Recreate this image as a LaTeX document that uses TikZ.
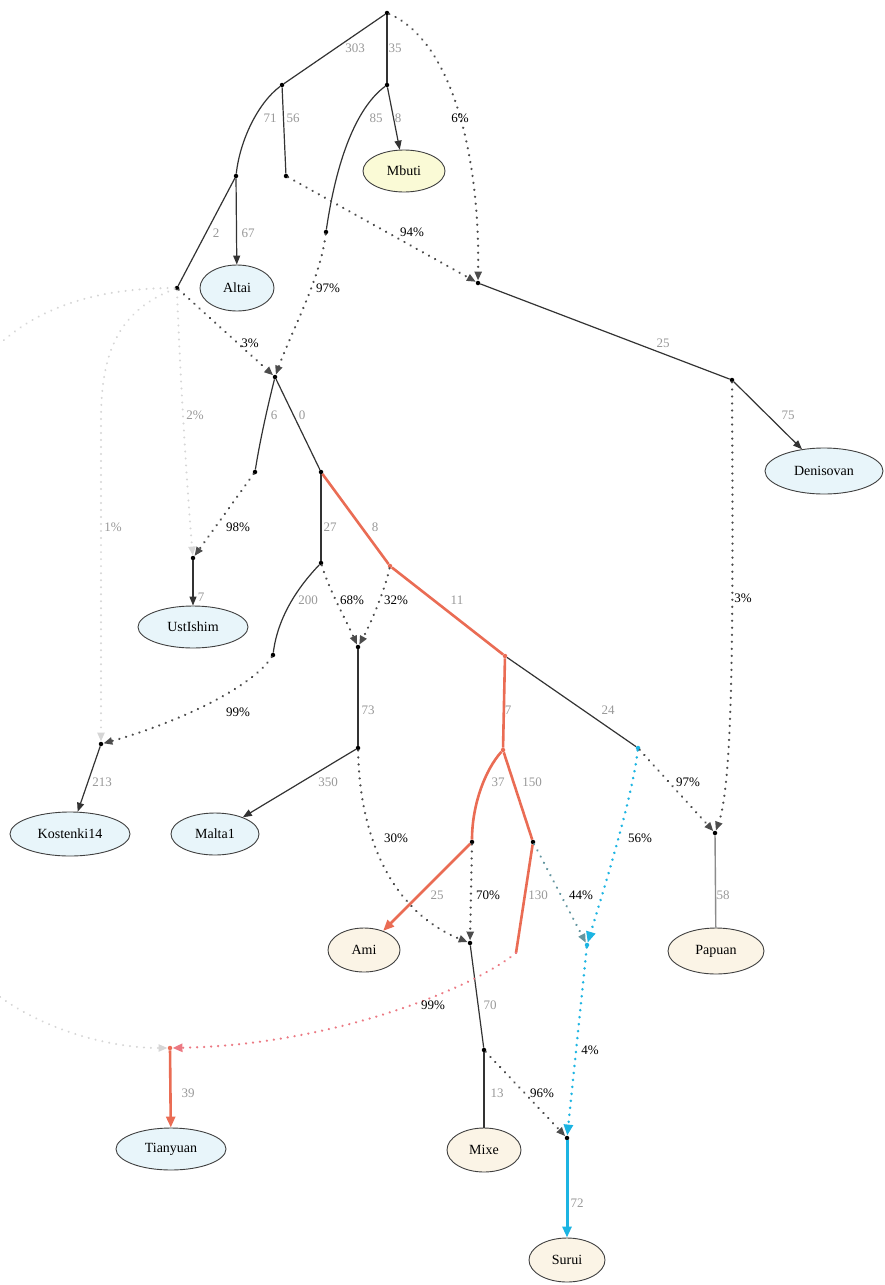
\documentclass[tikz,border=0pt]{standalone}
\usepackage{fontspec}
\setmainfont{Liberation Serif}
\usetikzlibrary{arrows.meta,shapes.geometric}
\definecolor{redE}{RGB}{234,108,84}
\definecolor{redD}{RGB}{236,120,130}
\definecolor{cyanE}{RGB}{28,180,226}
\definecolor{tealG}{RGB}{100,150,160}
\definecolor{fillB}{RGB}{232,245,250}
\definecolor{fillY}{RGB}{250,250,214}
\definecolor{fillC}{RGB}{251,244,230}
\tikzset{
  dotn/.style={circle,fill=black,inner sep=0pt,minimum size=4.5pt},
  leaf/.style={ellipse,draw=black!75,line width=0.9pt,inner sep=0pt,font=\fontsize{14}{16}\selectfont},
  leafB/.style={leaf,fill=fillB},
  leafY/.style={leaf,fill=fillY},
  leafC/.style={leaf,fill=fillC},
  glab/.style={text=black!40,font=\fontsize{13}{15}\selectfont,inner sep=0pt},
  plab/.style={text=black,font=\fontsize{13}{15}\selectfont,inner sep=0pt},
  sol/.style={line width=1.2pt,draw=black!80},
  redS/.style={line width=2.6pt,draw=redE},
  cyS/.style={line width=3pt,draw=cyanE},
  dotE/.style={line width=2.5pt,dash pattern=on 0.01pt off 7pt,line cap=round,draw=black!70},
  dotF/.style={line width=2.2pt,dash pattern=on 0.01pt off 7pt,line cap=round,draw=black!16},
  arr/.style={-{Triangle[length=9pt,width=7pt]}},
  arrB/.style={-{Triangle[length=11pt,width=9pt]}},
}
\begin{document}
\begin{tikzpicture}[x=1pt,y=-1pt]
\useasboundingbox[fill=white] (0,0) rectangle (884,1285);
% points
\node[dotn] (nR) at (387,13) {};
\node[dotn] (nA) at (282,85) {};
\node[dotn] (nB) at (387,85) {};
\node[dotn] (nC) at (236,176) {};
\node[dotn] (nD) at (286,176) {};
\node[dotn] (nE) at (326,232) {};
\node[dotn] (nF) at (478,283) {};
\node[dotn] (nG) at (177,288) {};
\node[dotn] (nH) at (275,377) {};
\node[dotn] (nL) at (255,472) {};
\node[dotn] (nM) at (321,472) {};
\node[dotn] (nI) at (193,558) {};
\node[dotn] (nN) at (321,563) {};
\node[dotn,fill=redE] (nO) at (390,566) {};
\node[dotn] (nQ) at (358,647) {};
\node[dotn] (nP) at (273,655) {};
\node[dotn,fill=redE] (nS) at (505,656) {};
\node[dotn] (nJ) at (101,744) {};
\node[dotn] (nT) at (358,748) {};
\node[dotn,fill=redE] (nV) at (503,750) {};
\node[dotn,fill=cyanE] (nW) at (638,748) {};
\node[dotn] (nX) at (472,842) {};
\node[dotn] (nY) at (533,842) {};
\node[dotn] (nBB) at (715,833) {};
\node[dotn] (nU) at (470,943) {};
\node[dotn,fill=cyanE] (nAA) at (587,945) {};
\coordinate (nZ) at (516,953);
\node[dotn,fill=redE] (nK) at (170,1048) {};
\node[dotn] (nMM) at (484,1050) {};
\node[dotn] (nNN) at (567,1138) {};
\node[dotn] (nDD) at (732,380) {};
% leaves
\node[leafY,minimum width=82pt,minimum height=42pt] (mbuti) at (404,171) {Mbuti};
\node[leafB,minimum width=74pt,minimum height=46pt] (altai) at (237,288) {Altai};
\node[leafB,minimum width=118pt,minimum height=46pt] (deni) at (824,471) {Denisovan};
\node[leafB,minimum width=110pt,minimum height=42pt] (ust) at (193,627) {UstIshim};
\node[leafB,minimum width=120pt,minimum height=44pt] (kost) at (70,834) {Kostenki14};
\node[leafB,minimum width=88pt,minimum height=42pt] (malta) at (215,834) {Malta1};
\node[leafC,minimum width=72pt,minimum height=44pt] (ami) at (364,950) {Ami};
\node[leafC,minimum width=96pt,minimum height=46pt] (papuan) at (716,951) {Papuan};
\node[leafC,minimum width=74pt,minimum height=44pt] (mixe) at (484,1150) {Mixe};
\node[leafC,minimum width=76pt,minimum height=44pt] (surui) at (567,1260) {Surui};
\node[leafB,minimum width=110pt,minimum height=42pt] (tian) at (171,1149) {Tianyuan};
% faint edges (clipped)
\begin{scope}
\clip (0,0) rectangle (884,1285);
\draw[dotF,arr] (nG) .. controls (60,288) and (-60,330) .. (-70,520) -- (-70,880) .. controls (-60,1000) and (80,1048) .. (nK);
\draw[dotF,arr] (nG) .. controls (120,310) and (101,350) .. (101,420) -- (nJ);
\draw[dotF,arr] (nG) .. controls (180,380) and (188,500) .. (nI);
\end{scope}
% solid black edges
\draw[sol] (nR) -- (nA);
\draw[sol] (nR) -- (nB);
\draw[sol] (nA) .. controls (258,103) and (240,140) .. (nC);
\draw[sol] (nA) -- (nD);
\draw[sol,arr] (nB) -- (mbuti);
\draw[sol] (nB) .. controls (360,105) and (338,150) .. (nE);
\draw[sol,arr] (nC) -- (altai);
\draw[sol] (nC) -- (nG);
\draw[sol] (nF) -- (nDD);
\draw[sol,arr] (nDD) -- (deni);
\draw[sol] (nH) .. controls (268,405) and (260,440) .. (nL);
\draw[sol] (nH) -- (nM);
\draw[sol] (nM) -- (nN);
\draw[sol] (nN) .. controls (300,585) and (278,615) .. (nP);
\draw[sol,arr] (nI) -- (ust);
\draw[sol,arr] (nJ) -- (kost);
\draw[sol] (nQ) -- (nT);
\draw[sol,arr] (nT) -- (malta);
\draw[sol] (nS) -- (nW);
\draw[sol] (nU) -- (nMM);
\draw[sol] (nMM) -- (mixe);
\draw[line width=1.4pt,draw=black!45] (nBB) -- (papuan);
% red edges
\draw[redS] (nM) -- (nO);
\draw[redS] (nO) -- (nS);
\draw[redS] (nS) -- (nV);
\draw[redS] (nV) .. controls (485,770) and (472,805) .. (nX);
\draw[redS,arrB] (nX) -- (ami);
\draw[redS] (nV) -- (nY);
\draw[redS] (nY) -- (nZ);
\draw[redS,arrB] (nK) -- (tian);
% cyan
\draw[cyS,arrB] (nNN) -- (surui);
% dotted admixture edges
\draw[dotE,arr] (nR) .. controls (450,40) and (480,150) .. (nF);
\draw[dotE,arr] (nD) -- (nF);
\draw[dotE,arr] (nE) .. controls (320,280) and (292,330) .. (nH);
\draw[dotE,arr] (nG) -- (nH);
\draw[dotE,arr] (nL) -- (nI);
\draw[dotE,arr] (nN) .. controls (330,592) and (346,620) .. (nQ);
\draw[dotE,arr] (nO) .. controls (385,590) and (370,625) .. (nQ);
\draw[dotE,arr] (nP) .. controls (250,690) and (170,725) .. (nJ);
\draw[dotE,arr] (nT) .. controls (360,850) and (400,915) .. (nU);
\draw[dotE,arr] (nX) -- (nU);
\draw[dotE,draw=tealG,-{Triangle[length=9pt,width=7pt,fill=tealG]}] (nY) -- (nAA);
\draw[dotE,draw=cyanE,line width=2.8pt,arrB] (nW) .. controls (632,800) and (602,895) .. (nAA);
\draw[dotE,arr] (nW) -- (nBB);
\draw[dotE,arr] (nDD) .. controls (733,600) and (734,780) .. (nBB);
\draw[dotE,draw=redD,-{Triangle[length=10pt,width=8pt,fill=redE]}] (nZ) .. controls (470,990) and (330,1045) .. (nK);
\draw[dotE,arr] (nMM) -- (nNN);
\draw[dotE,draw=cyanE,line width=2.8pt,arrB] (nAA) -- (nNN);
% gray branch labels
\node[glab] (g1) at (355,48) {303};
\node[glab] (g2) at (395,48) {35};
\node[glab] (g3) at (270,118) {71};
\node[glab] (g4) at (293,118) {56};
\node[glab] (g5) at (376,118) {85};
\node[glab] (g6) at (398,118) {8};
\node[glab] (g7) at (216,233) {2};
\node[glab] (g8) at (248,233) {67};
\node[glab] (g9) at (663,343) {25};
\node[glab] (g10) at (788,415) {75};
\node[glab] (g11) at (274,415) {6};
\node[glab] (g12) at (302,415) {0};
\node[glab] (g13) at (195,415) {2\%};
\node[glab] (g14) at (113,527) {1\%};
\node[glab] (g15) at (330,527) {27};
\node[glab] (g16) at (375,527) {8};
\node[glab] (g17) at (201,597) {7};
\node[glab] (g18) at (308,600) {200};
\node[glab] (g19) at (457,600) {11};
\node[glab] (g20) at (368,710) {73};
\node[glab] (g21) at (508,710) {7};
\node[glab] (g22) at (608,710) {24};
\node[glab] (g23) at (102,782) {213};
\node[glab] (g24) at (328,782) {350};
\node[glab] (g25) at (498,782) {37};
\node[glab] (g26) at (532,782) {150};
\node[glab] (g27) at (437,895) {25};
\node[glab] (g28) at (538,895) {130};
\node[glab] (g29) at (723,895) {58};
\node[glab] (g30) at (490,1005) {70};
\node[glab] (g31) at (497,1093) {13};
\node[glab] (g32) at (188,1093) {39};
\node[glab] (g33) at (577,1203) {72};
% percent labels
\node[plab] (p1) at (460,118) {6\%};
\node[plab] (p2) at (412,232) {94\%};
\node[plab] (p3) at (328,288) {97\%};
\node[plab] (p4) at (250,343) {3\%};
\node[plab] (p5) at (238,527) {98\%};
\node[plab] (p6) at (352,600) {68\%};
\node[plab] (p7) at (396,600) {32\%};
\node[plab] (p8) at (238,712) {99\%};
\node[plab] (p9) at (743,598) {3\%};
\node[plab] (p10) at (688,782) {97\%};
\node[plab] (p11) at (396,838) {30\%};
\node[plab] (p12) at (640,838) {56\%};
\node[plab] (p13) at (488,895) {70\%};
\node[plab] (p14) at (581,895) {44\%};
\node[plab] (p15) at (433,1005) {99\%};
\node[plab] (p16) at (590,1050) {4\%};
\node[plab] (p17) at (542,1093) {96\%};
\end{tikzpicture}
\end{document}
